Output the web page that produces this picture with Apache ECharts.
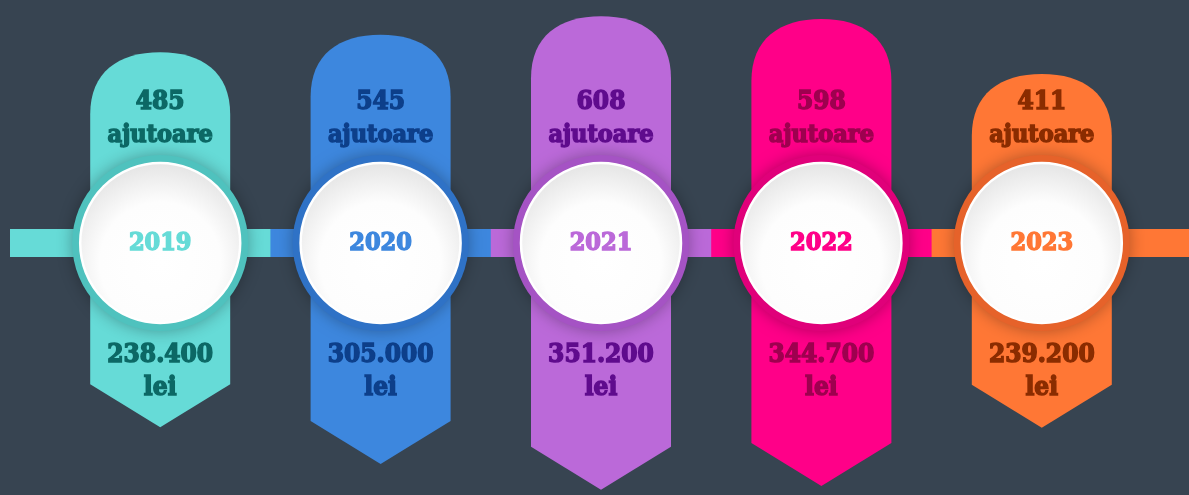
<!DOCTYPE html>
<html>
<head>
<meta charset="utf-8">
<title>Ajutoare 2019-2023</title>
<script src="https://cdn.jsdelivr.net/npm/echarts@6/dist/echarts.min.js"></script>
<style>
html, body { margin: 0; padding: 0; background: #374451; }
#chart { width: 1189px; height: 495px; }
</style>
</head>
<body>
<div id="chart"></div>
<script>
const years = ['2019', '2020', '2021', '2022', '2023']
const ajutoare = [485, 545, 608, 598, 411]
const lei = [238400, 305000, 351200, 344700, 239200]

// colours per year: pill, ring around the circle, dark text
const fillColors = ['#66dbd7', '#3d87de', '#bb69d9', '#ff0088', '#ff7735']
const ringColors = ['#4fc2be', '#2f72c6', '#a553c4', '#e0007a', '#e6622a']
const inkColors = ['#0c6865', '#0d3f8a', '#5f0b8d', '#9e004f', '#8a2c00']

const FONT = '"DejaVu Serif Condensed", "DejaVu Serif", serif'
const MID_Y = 243
const HALF_W = 70

function fmtLei (n) {
  return String(n).replace(/\B(?=(\d{3})+(?!\d))/g, '.')
}

const chart = echarts.init(document.getElementById('chart'))

// heavy slab look: bold serif plus a thin outline in the same colour
function txt (text, x, y, color, size) {
  return {
    type: 'text',
    z2: 10,
    style: {
      text: text,
      x: x,
      y: y,
      fill: color,
      stroke: color,
      lineWidth: 1.4,
      font: 'bold ' + size + 'px ' + FONT,
      align: 'center',
      verticalAlign: 'middle'
    }
  }
}

// horizontal band behind everything
function renderBand (params, api) {
  const i = params.dataIndex
  const cx = api.coord([i, 0])[0]
  const w = api.size([1, 0])[0]
  const left = i === 0 ? 10 : cx - w / 2
  const right = i === years.length - 1 ? 1189 : cx + w / 2 + 1
  return {
    type: 'rect',
    shape: { x: left, y: MID_Y - 14, width: right - left, height: 28 },
    style: { fill: fillColors[i] }
  }
}

// upper half of the pill, its height follows the number of ajutoare
function renderTop (params, api) {
  const i = params.dataIndex
  const pt = api.coord([i, api.value(1)])
  const cx = pt[0]
  const top = pt[1]
  const L = cx - HALF_W
  const R = cx + HALF_W
  const d = 'M' + L + ' ' + MID_Y +
    ' L' + L + ' ' + (top + 62) +
    ' C' + L + ' ' + (top + 20) + ' ' + (L + 28) + ' ' + top + ' ' + cx + ' ' + top +
    ' C' + (R - 28) + ' ' + top + ' ' + R + ' ' + (top + 20) + ' ' + R + ' ' + (top + 62) +
    ' L' + R + ' ' + MID_Y + ' Z'
  return {
    type: 'group',
    children: [
      { type: 'path', shape: { pathData: d }, style: { fill: fillColors[i] } },
      txt(String(ajutoare[i]), cx, 102, inkColors[i], 26),
      txt('ajutoare', cx, 135, inkColors[i], 25)
    ]
  }
}

// lower half with the arrow, its length follows the amount in lei
function renderBottom (params, api) {
  const i = params.dataIndex
  const pt = api.coord([i, api.value(1)])
  const cx = pt[0]
  const tip = pt[1]
  const L = cx - HALF_W
  const R = cx + HALF_W
  return {
    type: 'group',
    children: [
      {
        type: 'polygon',
        shape: { points: [[L, MID_Y], [L, tip - 43], [cx, tip], [R, tip - 43], [R, MID_Y]] },
        style: { fill: fillColors[i] }
      },
      txt(fmtLei(lei[i]), cx, 355, inkColors[i], 26),
      txt('lei', cx, 388, inkColors[i], 26)
    ]
  }
}

function renderCircle (params, api) {
  const i = params.dataIndex
  const cx = api.coord([i, 0])[0]
  return {
    type: 'group',
    children: [
      {
        type: 'circle',
        shape: { cx: cx, cy: MID_Y, r: 88 },
        style: { fill: ringColors[i], shadowBlur: 16, shadowColor: 'rgba(0,0,0,0.3)' }
      },
      {
        type: 'circle',
        shape: { cx: cx, cy: MID_Y, r: 80 },
        style: {
          fill: new echarts.graphic.RadialGradient(0.5, 0.62, 0.62, [
            { offset: 0, color: '#ffffff' },
            { offset: 0.6, color: '#fdfdfd' },
            { offset: 1, color: '#e4e4e4' }
          ]),
          stroke: '#ffffff',
          lineWidth: 2.5
        }
      },
      txt(years[i], cx, MID_Y, fillColors[i], 25)
    ]
  }
}

const option = {
  backgroundColor: '#374451',
  animation: false,
  grid: { left: 50, right: 37, top: 0, bottom: 0 },
  xAxis: { type: 'category', data: years, show: false },
  yAxis: [
    { type: 'value', min: -1021, max: 663, show: false },
    { type: 'value', min: -535100, max: 360900, inverse: true, show: false }
  ],
  series: [
    {
      type: 'custom',
      z: 1,
      renderItem: renderBand,
      data: ajutoare.map((v, i) => [i, 0])
    },
    {
      type: 'custom',
      z: 2,
      yAxisIndex: 0,
      renderItem: renderTop,
      data: ajutoare.map((v, i) => [i, v])
    },
    {
      type: 'custom',
      z: 2,
      yAxisIndex: 1,
      renderItem: renderBottom,
      data: lei.map((v, i) => [i, v])
    },
    {
      type: 'custom',
      z: 3,
      renderItem: renderCircle,
      data: years.map((y, i) => [i, 0])
    }
  ]
}

chart.setOption(option)
</script>
</body>
</html>
